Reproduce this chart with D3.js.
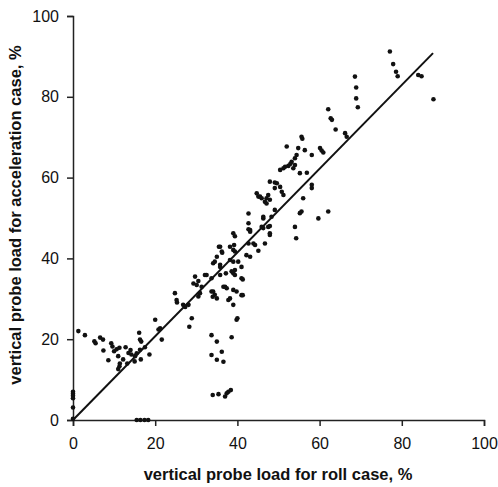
<!DOCTYPE html>
<html><head><meta charset="utf-8">
<script src="https://cdn.jsdelivr.net/npm/d3@7"></script>
<style>
html,body{margin:0;padding:0;background:#fff;}
svg{display:block;}
text{font-family:"Liberation Sans",Arial,sans-serif;fill:#111;}
</style></head>
<body><svg id="c" width="498" height="487"></svg>
<script>
// Data: [roll case %, acceleration case %]
const rollCase = [
0,0,0,0,0,0, 15.5,16.4,17.4,18.3,
1.3,2.9,5.2,5.5,6.6,7.3,7.4,8.6,9.3,9.6,10.0,10.6,11.3,11.0,11.3,11.0,12.2,12.8,13.5,14.2,14.0,15.0,16.1,16.3,16.6,16.3,16.5,17.5,18.6,20.0,20.8,21.6,15.5,13.2,15.1,11.4,
21.2,24.8,25.2,25.3,26.8,28.1,28.9,28.3,29.3,29.7,30.1,30.9,30.5,30.5,31.3,32.5,32.1,33.7,33.7,34.0,34.5,27.3,
34.1,34.5,35.0,35.5,35.8,36.2,36.3,35.8,35.8,35.8,37.2,37.0,36.6,37.4,37.8,38.2,38.2,39.0,39.0,38.2,39.2,39.4,39.0,39.4,40.2,41.0,39.4,38.6,39.0,39.4,41.0,39.0,39.8,41.0,41.3,41.3,39.0,39.8,40.0,42.2,35.0,34.1,
33.7,35.0,38.6,36.2,33.7,35.0,36.6,
34.0,35.4,37.0,37.4,37.8,38.4,
42.7,42.7,43.1,42.7,43.1,45.9,46.3,46.3,46.3,47.5,47.9,48.3,47.9,42.7,43.9,46.7,44.3,45.1,43.1,44.7,45.5,45.1,45.9,47.5,47.9,47.1,46.7,47.1,47.9,49.1,49.6,49.1,50.4,50.8,51.2,49.1,47.9,
52.0,54.8,56.4,55.6,55.8,58.1,54.4,54.0,53.2,52.9,52.4,51.6,51.2,50.4,54.0,53.6,55.2,56.9,58.1,58.1,56.0,55.6,55.2,54.0,54.3,59.7,62.1,60.1,60.5,60.9,
62.1,62.7,63.0,63.9,66.2,66.6,68.6,68.9,68.9,69.3,77.1,77.9,78.6,79.0,84.0,84.8,87.7
];
const accelCase = [
7.0,6.5,6.0,5.4,3.1,0.3, 0,0,0,0,
22.0,21.0,19.5,19.0,20.4,19.9,17.2,14.8,19.0,18.2,17.0,17.5,17.9,15.8,13.3,12.6,15.0,18.0,16.6,16.2,17.3,14.5,21.6,19.9,19.4,17.4,15.0,18.0,16.2,24.8,22.4,19.9,16.5,14.0,15.8,14.0,
22.7,31.4,29.7,29.1,28.5,28.5,25.2,23.1,33.8,35.5,33.4,31.4,30.6,34.4,33.0,35.9,35.9,35.1,31.8,30.5,31.0,28.0,
38.8,39.2,40.4,42.9,42.9,41.7,41.4,38.4,37.9,35.9,36.3,33.0,33.0,32.6,29.7,30.1,39.6,39.2,42.1,42.9,43.3,41.7,46.2,45.5,39.2,37.9,37.1,36.8,36.3,35.9,35.1,32.2,31.8,30.9,34.8,30.9,28.5,24.8,25.2,40.8,30.1,31.8,
21.0,19.4,20.5,16.9,16.1,14.9,14.4,
6.2,6.4,5.8,6.6,7.0,7.4,
51.1,48.7,47.0,47.2,46.6,47.8,47.5,49.9,50.3,47.8,48.0,50.3,45.8,43.7,43.7,43.7,43.3,41.9,40.4,56.1,55.3,55.3,54.9,55.7,54.5,54.9,54.0,53.6,59.0,58.8,58.6,57.4,57.7,56.5,55.7,52.0,46.2,
67.7,67.3,66.8,70.1,69.6,65.6,65.6,64.8,63.9,63.4,62.9,62.7,62.3,61.9,63.1,62.3,61.1,61.2,58.2,57.4,54.9,51.6,51.2,47.8,45.0,49.9,51.6,67.3,66.7,66.2,
76.9,74.7,74.3,71.9,71.0,70.1,85.0,82.3,79.6,77.4,91.2,88.1,86.2,85.1,85.4,85.1,79.4
];
const fitLine = [[0,0],[87.6,90.8]];
const xTicks = [0,20,40,60,80,100];
const yTicks = [0,20,40,60,80,100];
const xTitle = "vertical probe load for roll case, %";
const yTitle = "vertical probe load for acceleration case, %";

const svg = d3.select("#c");
const x = d3.scaleLinear().domain([0,100]).range([73,484]);
const y = d3.scaleLinear().domain([0,100]).range([420,16]);

const points = rollCase.map((v,i)=>({x:v,y:accelCase[i]}));

// axes
const gx = svg.append("g").attr("transform",`translate(0,${y(0)})`)
  .call(d3.axisBottom(x).tickValues(xTicks).tickSizeOuter(0).tickSize(6).tickPadding(12));
const gy = svg.append("g").attr("transform",`translate(${x(0)},0)`)
  .call(d3.axisLeft(y).tickValues(yTicks).tickSizeOuter(0).tickSize(6).tickPadding(8));
[gx,gy].forEach(g=>{
  g.selectAll("path,line").attr("stroke","#222").attr("stroke-width",1.5);
  g.selectAll("text").attr("font-size",16).attr("fill","#111")
   .style("font-family","'Liberation Sans',Arial,sans-serif");
});

// fit line
svg.append("line")
  .attr("x1",x(fitLine[0][0])).attr("y1",y(fitLine[0][1]))
  .attr("x2",x(fitLine[1][0])).attr("y2",y(fitLine[1][1]))
  .attr("stroke","#111").attr("stroke-width",2);

// points
svg.append("g").selectAll("circle").data(points).join("circle")
  .attr("cx",d=>x(d.x)).attr("cy",d=>y(d.y)).attr("r",2.3).attr("fill","#111");

// titles
svg.append("text").attr("x",278).attr("y",480).attr("text-anchor","middle")
  .attr("font-size",16.5).attr("font-weight","bold").text(xTitle);
svg.append("text").attr("transform","translate(21,215) rotate(-90)").attr("text-anchor","middle")
  .attr("font-size",16.5).attr("font-weight","bold").text(yTitle);
</script></body></html>
